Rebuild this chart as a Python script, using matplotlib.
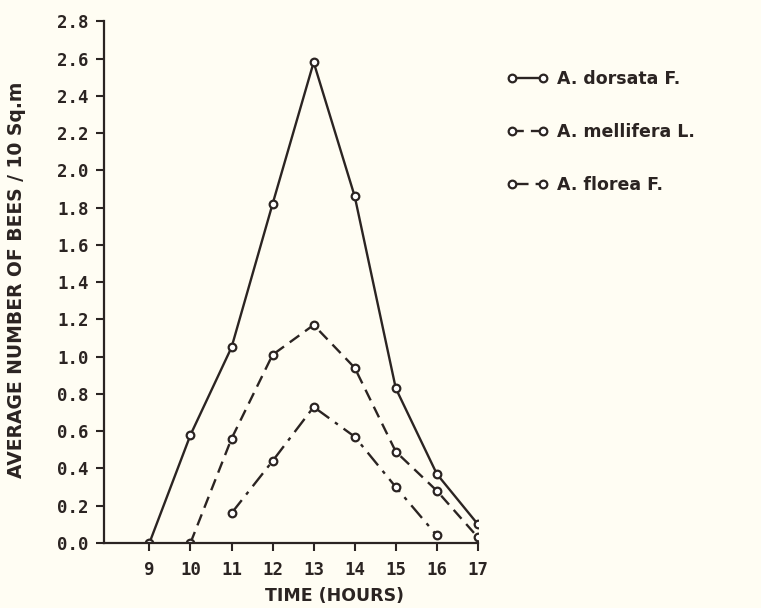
import matplotlib
matplotlib.use("Agg")
import matplotlib.pyplot as plt

hours = [9, 10, 11, 12, 13, 14, 15, 16, 17]

dorsata_x = [9, 10, 11, 12, 13, 14, 15, 16, 17]
dorsata_y = [0.0, 0.58, 1.05, 1.82, 2.58, 1.86, 0.83, 0.37, 0.10]

mellifera_x = [10, 11, 12, 13, 14, 15, 16, 17]
mellifera_y = [0.0, 0.56, 1.01, 1.17, 0.94, 0.49, 0.28, 0.03]

florea_x = [11, 12, 13, 14, 15, 16]
florea_y = [0.16, 0.44, 0.73, 0.57, 0.30, 0.04]

yticks = [0.0, 0.2, 0.4, 0.6, 0.8, 1.0, 1.2, 1.4, 1.6, 1.8, 2.0, 2.2, 2.4, 2.6, 2.8]

ink = "#2b2422"
bg = "#fffdf3"

plt.rcParams['font.family'] = ['DejaVu Sans']
fig = plt.figure(figsize=(7.61, 6.08), dpi=100, facecolor=bg)
ax = fig.add_axes([0.137, 0.107, 0.491, 0.858])
ax.set_facecolor(bg)

mk = dict(marker='o', markersize=5.5, markerfacecolor='white',
          markeredgecolor=ink, markeredgewidth=1.6, color=ink, lw=1.7)

ax.plot(dorsata_x, dorsata_y, linestyle='-', label='A. dorsata F.', **mk)
ax.plot(mellifera_x, mellifera_y, linestyle=(0, (5, 3)), label='A. mellifera L.', **mk)
ax.plot(florea_x, florea_y, linestyle=(0, (7, 3, 1.5, 3)), label='A. florea F.', **mk)

ax.set_xlim(7.9, 17)
ax.set_ylim(0, 2.8)
ax.set_xticks(hours)
ax.set_xticklabels([str(h) for h in hours])
ax.set_yticks(yticks)
ax.set_yticklabels([f"{v:.1f}" for v in yticks])

for s in ['top', 'right']:
    ax.spines[s].set_visible(False)
for s in ['left', 'bottom']:
    ax.spines[s].set_color(ink)
    ax.spines[s].set_linewidth(1.6)

ax.tick_params(axis='both', colors=ink, width=1.5, length=6, direction='out')
ax.tick_params(axis='y', pad=5)
ax.tick_params(axis='x', pad=7)
for lab in ax.get_xticklabels() + ax.get_yticklabels():
    lab.set_fontweight('bold')
    lab.set_family('DejaVu Sans Mono')
    lab.set_fontsize(12.5)

ax.set_xlabel('TIME (HOURS)', fontsize=12.5, fontweight='bold', color=ink)
ax.xaxis.set_label_coords(0.615, -0.085)
ax.set_ylabel('AVERAGE NUMBER OF BEES / 10 Sq.m', fontsize=13.5, fontweight='bold',
              color=ink)
ax.yaxis.set_label_coords(-0.21, 0.505)

leg = ax.legend(loc='upper left', bbox_to_anchor=(0.645, 0.91),
                bbox_transform=fig.transFigure, frameon=False, numpoints=2,
                handlelength=2.4, handletextpad=0.5, labelspacing=2.0,
                prop={'weight': 'bold', 'size': 12.5})
for t in leg.get_texts():
    t.set_color(ink)

fig.savefig('out.png', dpi=100, facecolor=bg)
